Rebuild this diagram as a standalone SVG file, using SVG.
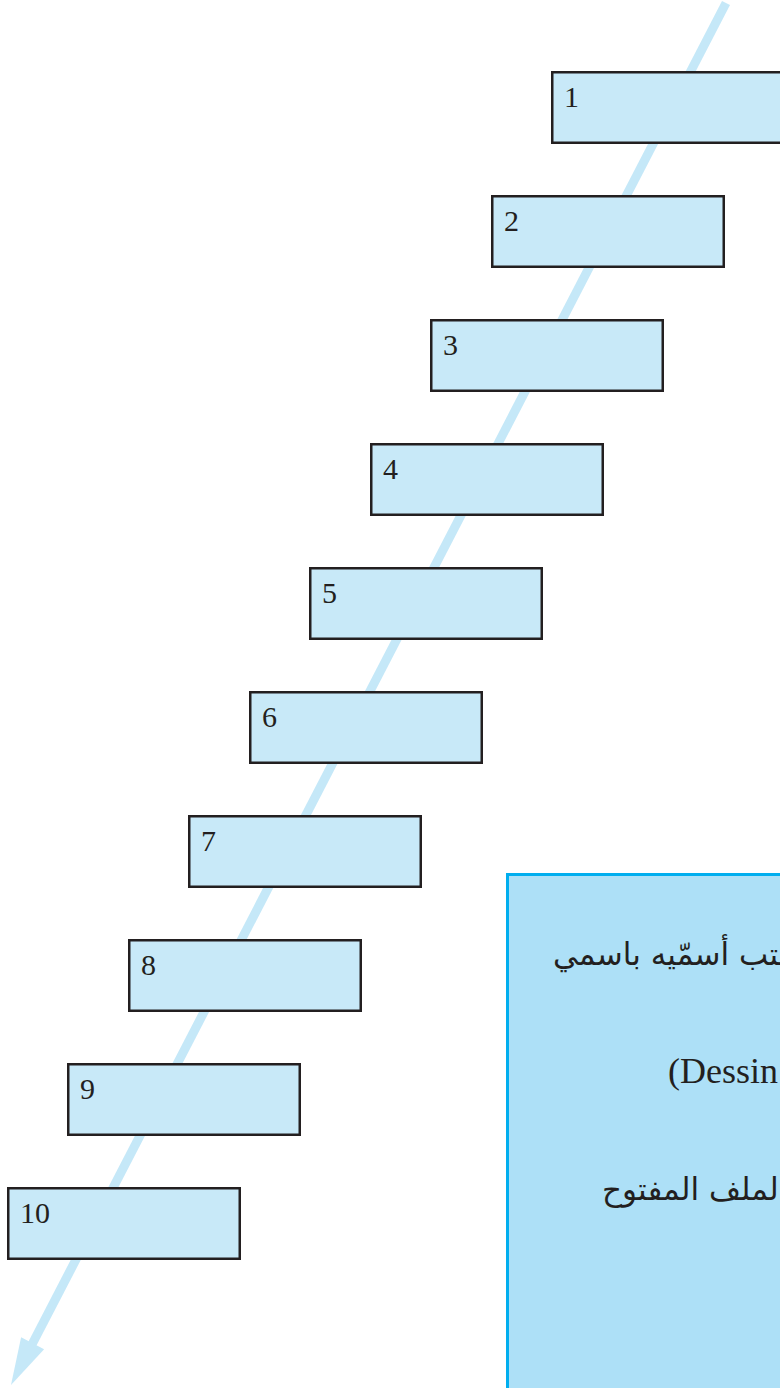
<svg xmlns="http://www.w3.org/2000/svg" width="780" height="1388" viewBox="0 0 780 1388">
<style>
.step rect{fill:#c8e9f8;stroke:#231f20;stroke-width:2.5}
.step text{font-family:"Liberation Serif","Times New Roman",serif;font-size:30px;fill:#231f20}
.ar{font-family:"DejaVu Sans",sans-serif;font-size:31px;fill:#231f20}
.lat{font-family:"Liberation Serif",serif;font-size:36px;fill:#231f20}
</style>
<rect width="780" height="1388" fill="#ffffff"/>
<g id="connectors">
<line x1="726" y1="3" x2="30.8" y2="1346.8" stroke="#c5e8f8" stroke-width="9"/>
<polygon points="11,1385 21.1,1337.3 44.1,1349.3" fill="#c5e8f8"/>
</g>
<g id="node1" class="step"><rect x="552.25" y="72.25" width="240" height="70.5"/><text x="564" y="107">1</text></g>
<g id="node2" class="step"><rect x="492.25" y="196.25" width="231.5" height="70.5"/><text x="504" y="231">2</text></g>
<g id="node3" class="step"><rect x="431.25" y="320.25" width="231.5" height="70.5"/><text x="443" y="355">3</text></g>
<g id="node4" class="step"><rect x="371.25" y="444.25" width="231.5" height="70.5"/><text x="383" y="479">4</text></g>
<g id="node5" class="step"><rect x="310.25" y="568.25" width="231.5" height="70.5"/><text x="322" y="603">5</text></g>
<g id="node6" class="step"><rect x="250.25" y="692.25" width="231.5" height="70.5"/><text x="262" y="727">6</text></g>
<g id="node7" class="step"><rect x="189.25" y="816.25" width="231.5" height="70.5"/><text x="201" y="851">7</text></g>
<g id="node8" class="step"><rect x="129.25" y="940.25" width="231.5" height="70.5"/><text x="141" y="975">8</text></g>
<g id="node9" class="step"><rect x="68.25" y="1064.25" width="231.5" height="70.5"/><text x="80" y="1099">9</text></g>
<g id="node10" class="step"><rect x="8.25" y="1188.25" width="231.5" height="70.5"/><text x="20" y="1223">10</text></g>
<g id="note">
<rect x="507.5" y="874.5" width="300" height="540" fill="#ade0f7" stroke="#00aeef" stroke-width="3"/>
<text class="ar" x="553" y="965">ـتب أسمّيه باسمي</text>
<text class="lat" x="668" y="1083">(Dessin</text>
<text class="ar" x="602" y="1200">الملف المفتوح</text>
</g>
</svg>
